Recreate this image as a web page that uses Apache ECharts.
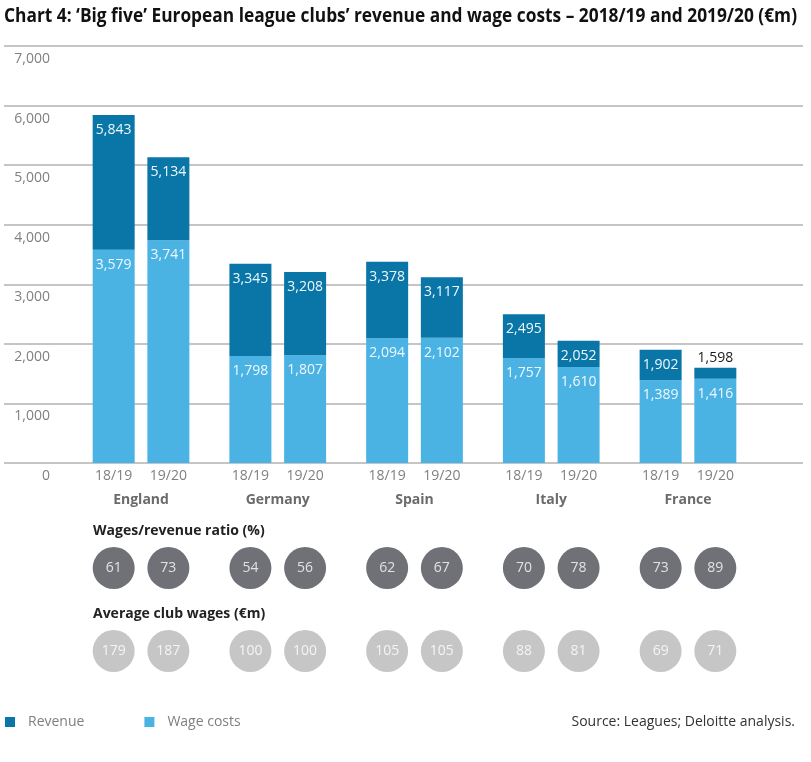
<!DOCTYPE html>
<html>
<head>
<meta charset="utf-8">
<script src="https://cdn.jsdelivr.net/npm/echarts@6/dist/echarts.min.js"></script>
<style>
  html, body { margin: 0; padding: 0; background: #fff; }
  #chart { width: 811px; height: 762px; }
</style>
</head>
<body>
<div id="chart"></div>
<script>
const countries = ['England', 'Germany', 'Spain', 'Italy', 'France']
const seasons = ['18/19', '19/20']
// [18/19, 19/20] per country, €m
const revenue = [[5843, 5134], [3345, 3208], [3378, 3117], [2495, 2052], [1902, 1598]]
const wageCosts = [[3579, 3741], [1798, 1807], [2094, 2102], [1757, 1610], [1389, 1416]]
const wageRatio = [[61, 73], [54, 56], [62, 67], [70, 78], [73, 89]]
const avgWages = [[179, 187], [100, 100], [105, 105], [88, 81], [69, 71]]
const yTicks = [0, 1000, 2000, 3000, 4000, 5000, 6000, 7000]

const TITLE = 'Chart 4: ‘Big five’ European league clubs’ revenue and wage costs – 2018/19 and 2019/20 (€m)'
const TITLE_FONT = 'bold 19px "Open Sans", sans-serif'

// each country takes 5 slots: bar, gap, bar, gap, gap (last one trimmed)
const SLOTS = countries.length * 5 - 2
const slotSeason = new Array(SLOTS).fill('')
const slotCountry = new Array(SLOTS).fill('')
const slotWage = new Array(SLOTS).fill(null)
const slotRev = new Array(SLOTS).fill(null)
const ratioPts = []
const avgPts = []

const fmt = v => v.toLocaleString('en-US')

countries.forEach((c, i) => {
  slotCountry[i * 5 + 1] = c
  seasons.forEach((s, j) => {
    const k = i * 5 + j * 2
    slotSeason[k] = s
    slotWage[k] = wageCosts[i][j]
    const rest = revenue[i][j] - wageCosts[i][j]
    slotRev[k] = rest < 400
      ? { value: rest, total: revenue[i][j], label: { position: 'top', distance: 3, color: '#1a1a1a' } }
      : { value: rest, total: revenue[i][j] }
    ratioPts.push([k, 0, wageRatio[i][j]])
    avgPts.push([k, 0, avgWages[i][j]])
  })
})

// the original title is set in a condensed face; squeeze ours to the same width
const ctx = document.createElement('canvas').getContext('2d')
ctx.font = TITLE_FONT
const titleScale = Math.min(1, 793 / ctx.measureText(TITLE).width)

const chart = echarts.init(document.getElementById('chart'))

const barLabel = {
  show: true,
  position: 'insideTop',
  distance: 8,
  color: '#eef8fd',
  fontSize: 14,
}

chart.setOption({
  animation: false,
  textStyle: { fontFamily: '"Open Sans", sans-serif' },
  graphic: [{
    type: 'text',
    x: 4,
    y: 7,
    scaleX: titleScale,
    style: { text: TITLE, font: TITLE_FONT, fill: '#111', verticalAlign: 'top' },
  }],
  title: [
    {
      text: 'Wages/revenue ratio (%)',
      left: 93, top: 524, padding: 0,
      textStyle: { fontSize: 14, fontWeight: 'bold', color: '#222' },
    },
    {
      text: 'Average club wages (€m)',
      left: 93, top: 607, padding: 0,
      textStyle: { fontSize: 14, fontWeight: 'bold', color: '#222' },
    },
    {
      text: 'Source: Leagues; Deloitte analysis.',
      right: 16, top: 715, padding: 0,
      textStyle: { fontSize: 14, fontWeight: 'normal', color: '#333' },
    },
  ],
  legend: {
    data: ['Revenue', 'Wage costs'],
    left: 5,
    top: 715,
    padding: 0,
    icon: 'rect',
    itemWidth: 10,
    itemHeight: 10,
    itemGap: 60,
    textStyle: { color: '#808080', fontSize: 14, padding: [0, 0, 0, 8] },
  },
  grid: [
    { left: 4, right: 8, top: 46, height: 417 },
    { left: 100, right: 82, top: 46, height: 417 },
    { left: 100, right: 82, top: 547, height: 42 },
    { left: 100, right: 82, top: 630, height: 42 },
  ],
  xAxis: [
    { gridIndex: 0, type: 'category', data: [''], show: false },
    {
      gridIndex: 1, type: 'category', data: slotSeason,
      axisLine: { show: false }, axisTick: { show: false },
      axisLabel: { interval: 0, color: '#808080', fontSize: 14, margin: 6 },
    },
    {
      gridIndex: 1, type: 'category', data: slotCountry, position: 'bottom', offset: 24,
      axisLine: { show: false }, axisTick: { show: false },
      axisLabel: { interval: 0, color: '#6b6b6b', fontSize: 14, fontWeight: 'bold', margin: 6 },
    },
    { gridIndex: 2, type: 'category', data: slotSeason, show: false },
    { gridIndex: 3, type: 'category', data: slotSeason, show: false },
  ],
  yAxis: [
    {
      gridIndex: 0, type: 'value', min: 0, max: yTicks[yTicks.length - 1], interval: 1000,
      axisLine: { show: false }, axisTick: { show: false },
      splitLine: { lineStyle: { color: '#b2b2b2', width: 1.5 } },
      axisLabel: {
        inside: true, align: 'right', margin: 46, verticalAlign: 'top',
        padding: [6, 0, 0, 0], color: '#808080', fontSize: 14, formatter: fmt,
      },
    },
    { gridIndex: 1, type: 'value', min: 0, max: 7000, show: false },
    { gridIndex: 2, type: 'value', min: -1, max: 1, show: false },
    { gridIndex: 3, type: 'value', min: -1, max: 1, show: false },
  ],
  series: [
    {
      name: 'Wage costs',
      type: 'bar',
      stack: 'total',
      xAxisIndex: 1,
      yAxisIndex: 1,
      barWidth: 42,
      clip: false,
      itemStyle: { color: '#4bb3e4' },
      label: { ...barLabel, formatter: p => fmt(p.value) },
      data: slotWage,
    },
    {
      name: 'Revenue',
      type: 'bar',
      stack: 'total',
      xAxisIndex: 1,
      yAxisIndex: 1,
      barWidth: 42,
      clip: false,
      itemStyle: { color: '#0a76a7' },
      label: { ...barLabel, formatter: p => fmt(p.data.total) },
      data: slotRev,
    },
    {
      type: 'scatter',
      xAxisIndex: 3,
      yAxisIndex: 2,
      symbolSize: 42,
      clip: false,
      itemStyle: { color: '#707176', opacity: 1 },
      label: { show: true, position: 'inside', color: '#e2e2e2', fontSize: 14, formatter: p => p.value[2] },
      data: ratioPts,
    },
    {
      type: 'scatter',
      xAxisIndex: 4,
      yAxisIndex: 3,
      symbolSize: 42,
      clip: false,
      itemStyle: { color: '#c6c6c6', opacity: 1 },
      label: { show: true, position: 'inside', color: '#f4f4f4', fontSize: 14, formatter: p => p.value[2] },
      data: avgPts,
    },
  ],
})
</script>
</body>
</html>
